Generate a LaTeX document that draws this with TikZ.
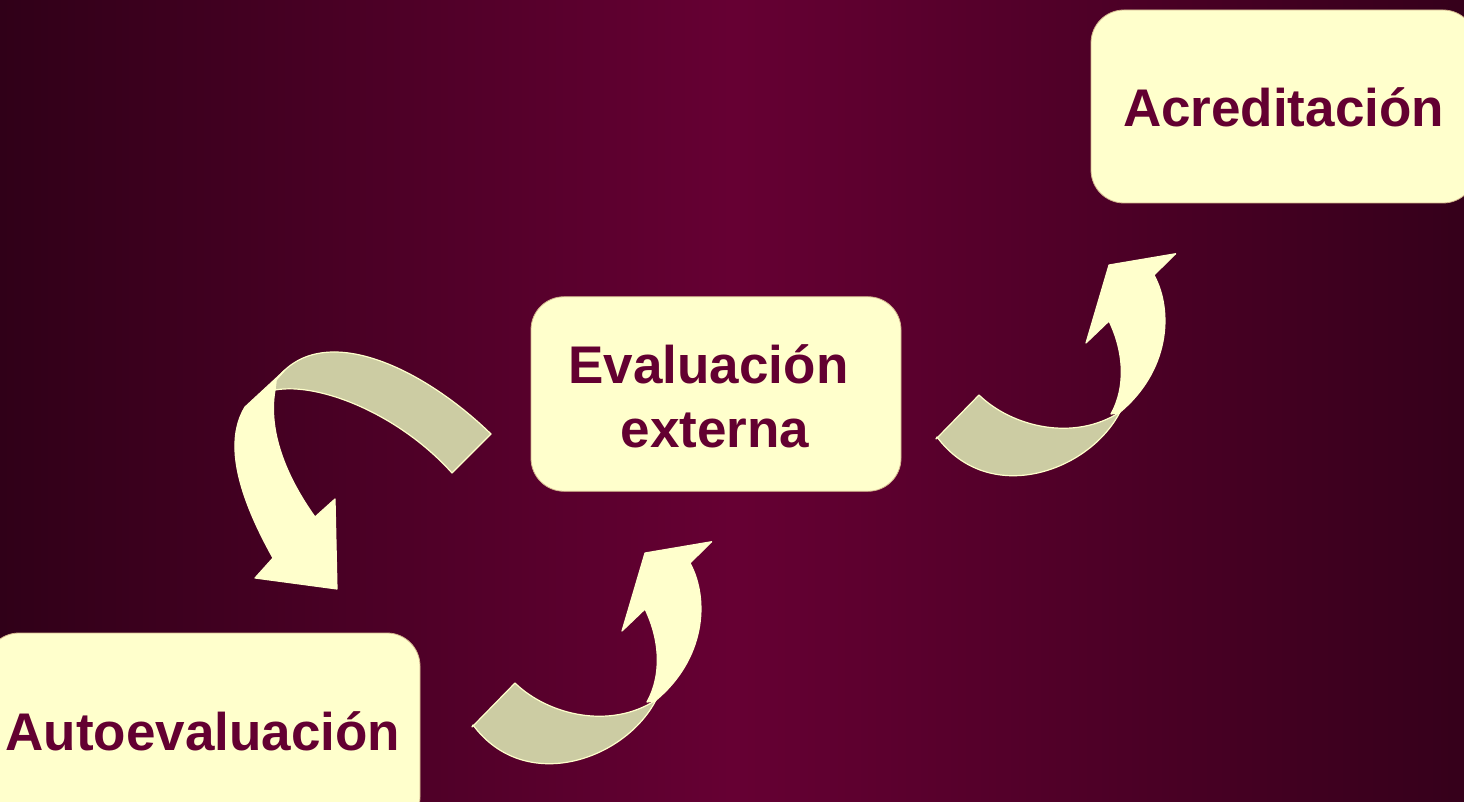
\documentclass[tikz,border=0pt]{standalone}
\usepackage{fontspec}
\setmainfont{Liberation Sans}
\definecolor{bgdark}{HTML}{300018}
\definecolor{bgmid}{HTML}{660033}
\definecolor{boxfill}{HTML}{FFFFCC}
\definecolor{txt}{HTML}{630031}
\definecolor{olive}{HTML}{CCCCA3}
\definecolor{boxline}{HTML}{D2B48C}
\tikzset{
  box/.style={draw=boxline, line width=0.8pt, fill=boxfill, rounded corners=33pt, inner sep=0pt, outer sep=0pt},
  lbl/.style={text=txt, font=\bfseries\fontsize{53}{63}\selectfont, inner sep=0pt, anchor=base},
  front/.style={fill=boxfill, draw=boxfill, line width=1.2pt, line join=round},
  back/.style={fill=olive, draw=boxfill, line width=1.2pt, line join=round},
  uparrow/.pic={
    \path[back] (472,727) -- (515,683) .. controls (548,715) and (610,730) .. (656,700)
      .. controls (625,760) and (525,795) .. (473,725) -- cycle;
    \path[front] (645,609) -- (622,631) -- (645,553) -- (711.7,541.7) -- (690,563)
      .. controls (710,600) and (705,660) .. (655,701) -- (647,702)
      .. controls (662,675) and (660,640) .. (645,609) -- cycle;
  }
}
\begin{document}
\begin{tikzpicture}[x=1pt,y=-1pt]
\useasboundingbox (0,0) rectangle (1464,802);
\shade[left color=bgdark, right color=bgdark!90!bgmid, middle color=bgmid] (0,0) rectangle (1464,802);

% boxes
\node[box, minimum width=370pt, minimum height=194.5pt] (ext) at (716,394) {};
\node[box, minimum width=434pt, minimum height=197pt] (auto) at (203,731.5) {};
\node[box, minimum width=385pt, minimum height=193pt] (acr) at (1283.5,106.5) {};

% labels
\node[lbl] (autot) at (203,750) {Autoevaluación};
\node[lbl] (acrt) at (1283.5,127) {Acreditación};
\node[lbl] (extt1) at (708.5,383) {Evaluación};
\node[lbl] (extt2) at (715,447) {externa};

% arrow from Evaluacion externa down to Autoevaluacion
\path[back] (452,473) -- (491,434)
  .. controls (420,365) and (320,320) .. (276,380)
  -- (275,390)
  .. controls (320,382) and (400,415) .. (452,473) -- cycle;
\path[front] (285,370) -- (245,407)
  .. controls (225,440) and (235,490) .. (273,558)
  -- (255,578) -- (337,589) -- (335,499) -- (315,517)
  .. controls (285,475) and (268,430) .. (275,390)
  -- (276,380) -- cycle;

% arrow Autoevaluacion -> Evaluacion externa
\pic (a2) at (0,0) {uparrow};
% arrow Evaluacion externa -> Acreditacion
\pic (a3) at (464,-288) {uparrow};
\end{tikzpicture}
\end{document}
